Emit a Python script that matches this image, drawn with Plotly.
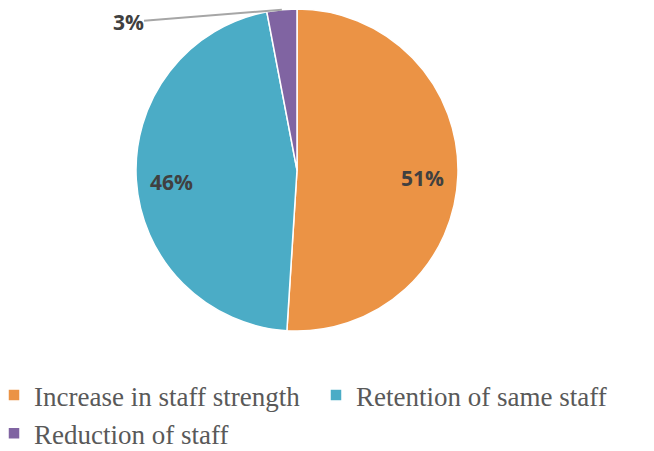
import numpy as np
import plotly.graph_objects as go

labels = ["Increase in staff strength", "Retention of same staff", "Reduction of staff"]
values = [51, 46, 3]
colors = ["#EB9345", "#4BACC6", "#8064A2"]

W, H = 646, 443         # page body adds an 8px margin
MB = 80                 # bottom margin reserved for the legend
PH = H - MB             # plot-area height
cx, cy, r = 289, 162, 161

fig = go.Figure(go.Pie(
    labels=labels,
    values=values,
    sort=False,
    direction="clockwise",
    rotation=0,
    marker=dict(colors=colors, line=dict(color="white", width=1.5)),
    textinfo="none",
    hoverinfo="label+percent",
    domain=dict(x=[(cx - r) / W, (cx + r) / W], y=[1 - (cy + r) / PH, 1 - (cy - r) / PH]),
))

# label positions from slice mid-angles
vals = np.array(values, dtype=float)
frac = vals / vals.sum()
starts = np.concatenate([[0], np.cumsum(frac)[:-1]])
mids = (starts + frac / 2) * 2 * np.pi

lab_font = dict(family="Open Sans", size=21, color="#404040", weight="bold")
annotations = []
for i, (v, th) in enumerate(zip(values, mids)):
    if i < 2:
        k = 0.78
        px = cx + k * r * np.sin(th)
        py = cy - k * r * np.cos(th)
        annotations.append(dict(
            x=px / W, y=1 - py / PH, xref="paper", yref="paper",
            xanchor="center", yanchor="middle",
            text=f"{v}%", showarrow=False, yshift=-4, font=lab_font,
        ))
    else:
        px = cx + r * np.sin(th)
        py = cy - r * np.cos(th)
        annotations.append(dict(
            x=px / W, y=1 - py / PH, xref="paper", yref="paper",
            text=f"{v}%", showarrow=True, arrowhead=0, arrowwidth=2,
            arrowcolor="#A6A6A6", ax=120 - px, ay=14 - py, standoff=0,
            borderpad=0, font=lab_font,
        ))

fig.update_layout(
    width=W, height=H,
    margin=dict(l=0, r=0, t=0, b=MB, autoexpand=False),
    paper_bgcolor="white",
    plot_bgcolor="white",
    showlegend=True,
    legend=dict(
        orientation="h",
        x=-14 / W, xanchor="left",
        y=0.0, yanchor="top",
        font=dict(family="Liberation Serif", size=27, color="#595959"),
        entrywidth=277, entrywidthmode="pixels",
        traceorder="normal",
    ),
    annotations=annotations,
)

fig.write_html("out.html")
